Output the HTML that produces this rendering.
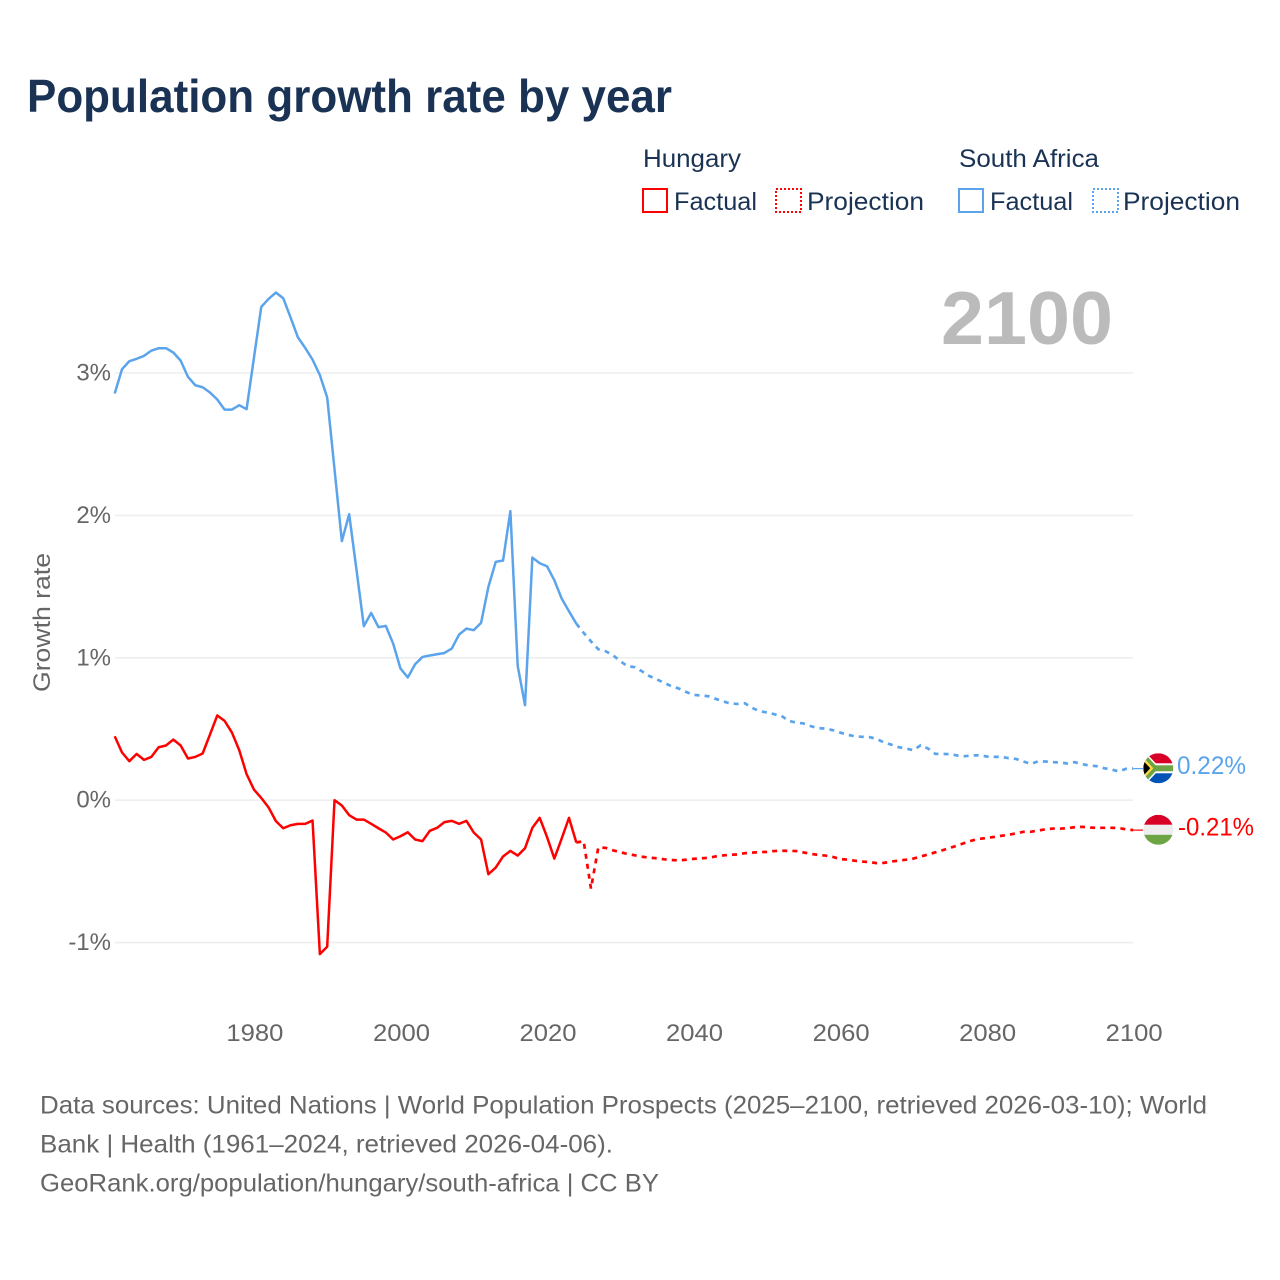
<!DOCTYPE html>
<html lang="en">
<head>
<meta charset="utf-8">
<title>Population growth rate by year</title>
<style>
html,body{margin:0;padding:0;background:#fff;}
svg{display:block;font-family:"Liberation Sans",sans-serif;}
</style>
</head>
<body>
<svg id="chart" xmlns="http://www.w3.org/2000/svg" width="1280" height="1280" viewBox="0 0 1280 1280">
  <defs>
    <clipPath id="flag-clip"><circle cx="0" cy="0" r="15"/></clipPath>
  </defs>
  <rect x="0" y="0" width="1280" height="1280" fill="#fff"/>
  <text x="27" y="112" font-size="46" font-weight="700" fill="#1a3354" textLength="645" lengthAdjust="spacingAndGlyphs">Population growth rate by year</text>

  <g font-size="25" fill="#1a3354">
    <text x="643" y="167" textLength="98" lengthAdjust="spacingAndGlyphs">Hungary</text>
    <text x="959" y="167" textLength="140" lengthAdjust="spacingAndGlyphs">South Africa</text>
    <rect x="643" y="189" width="24" height="23" fill="none" stroke="#ff0000" stroke-width="2"/>
    <text x="674" y="210" textLength="83" lengthAdjust="spacingAndGlyphs">Factual</text>
    <rect x="776" y="189" width="25" height="23" fill="none" stroke="#ff0000" stroke-width="2" stroke-dasharray="2 2"/>
    <text x="807" y="210" textLength="117" lengthAdjust="spacingAndGlyphs">Projection</text>
    <rect x="959" y="189" width="24" height="23" fill="none" stroke="#5ba4ec" stroke-width="2"/>
    <text x="990" y="210" textLength="83" lengthAdjust="spacingAndGlyphs">Factual</text>
    <rect x="1093" y="189" width="25" height="23" fill="none" stroke="#5ba4ec" stroke-width="2" stroke-dasharray="2 2"/>
    <text x="1123" y="210" textLength="117" lengthAdjust="spacingAndGlyphs">Projection</text>
  </g>

  <g id="grid"></g>
  <text id="year-label" x="1113" y="344" text-anchor="end" font-size="75" font-weight="700" fill="#bbbbbb" textLength="172" lengthAdjust="spacingAndGlyphs">2100</text>
  <g id="y-ticks"></g>
  <g id="x-ticks"></g>
  <text transform="translate(50,622.5) rotate(-90)" text-anchor="middle" font-size="24" fill="#666" textLength="139" lengthAdjust="spacingAndGlyphs">Growth rate</text>

  <path id="hungary-factual-line" fill="none" stroke="#ff0000" stroke-width="2.5" stroke-linejoin="round"/>
  <path id="hungary-projection-line" fill="none" stroke="#ff0000" stroke-width="2.7" stroke-dasharray="5 5.1"/>
  <path id="south-africa-factual-line" fill="none" stroke="#5ba4ec" stroke-width="2.5" stroke-linejoin="round"/>
  <path id="south-africa-projection-line" fill="none" stroke="#5ba4ec" stroke-width="2.7" stroke-dasharray="5 5.1"/>
  <line id="hungary-connector" stroke="#ff0000" stroke-width="1.2"/>
  <line id="south-africa-connector" stroke="#5ba4ec" stroke-width="1.2"/>

  <g id="south-africa-flag">
    <g clip-path="url(#flag-clip)">
      <rect x="-15" y="-15" width="30" height="30" fill="#fff"/>
      <rect x="-15" y="-15" width="30" height="10.5" fill="#d80027"/>
      <rect x="-15" y="4.5" width="30" height="10.5" fill="#0052b4"/>
      <polyline points="-18,-15 -4,0 -18,15" fill="none" stroke="#fff" stroke-width="9"/>
      <rect x="-5" y="-5" width="20" height="10" fill="#fff"/>
      <rect x="-5" y="-3" width="20" height="6" fill="#6da544"/>
      <polyline points="-18,-15 -4,0 -18,15" fill="none" stroke="#6da544" stroke-width="6"/>
      <polygon points="-15,-11 -5,0 -15,11" fill="#ffda44"/>
      <polygon points="-15,-7.5 -8,0 -15,7.5" fill="#000"/>
    </g>
  </g>
  <g id="hungary-flag">
    <g clip-path="url(#flag-clip)">
      <rect x="-15" y="-15" width="30" height="10" fill="#d80027"/>
      <rect x="-15" y="-5" width="30" height="10" fill="#eeeeee"/>
      <rect x="-15" y="5" width="30" height="10" fill="#6da544"/>
    </g>
  </g>
  <text id="south-africa-value" x="1177" font-size="25" fill="#5ba4ec" textLength="69" lengthAdjust="spacingAndGlyphs"></text>
  <text id="hungary-value" x="1178" font-size="25" fill="#ff0000" textLength="76" lengthAdjust="spacingAndGlyphs"></text>

  <g font-size="25" fill="#666">
    <text x="40" y="1113.5" textLength="1167" lengthAdjust="spacingAndGlyphs">Data sources: United Nations | World Population Prospects (2025–2100, retrieved 2026-03-10); World</text>
    <text x="40" y="1152.5" textLength="573" lengthAdjust="spacingAndGlyphs">Bank | Health (1961–2024, retrieved 2026-04-06).</text>
    <text x="40" y="1191.5" textLength="619" lengthAdjust="spacingAndGlyphs">GeoRank.org/population/hungary/south-africa | CC BY</text>
  </g>
</svg>
<script>
var factualYears = [1961,1962,1963,1964,1965,1966,1967,1968,1969,1970,1971,1972,1973,1974,1975,1976,1977,1978,1979,1980,1981,1982,1983,1984,1985,1986,1987,1988,1989,1990,1991,1992,1993,1994,1995,1996,1997,1998,1999,2000,2001,2002,2003,2004,2005,2006,2007,2008,2009,2010,2011,2012,2013,2014,2015,2016,2017,2018,2019,2020,2021,2022,2023,2024];
var projectionYears = [2024,2025,2026,2027,2028,2029,2030,2031,2032,2033,2034,2035,2036,2037,2038,2039,2040,2041,2042,2043,2044,2045,2046,2047,2048,2049,2050,2051,2052,2053,2054,2055,2056,2057,2058,2059,2060,2061,2062,2063,2064,2065,2066,2067,2068,2069,2070,2071,2072,2073,2074,2075,2076,2077,2078,2079,2080,2081,2082,2083,2084,2085,2086,2087,2088,2089,2090,2091,2092,2093,2094,2095,2096,2097,2098,2099,2100];
var southAfricaFactual = [2.856,3.027,3.083,3.10,3.12,3.157,3.174,3.174,3.144,3.087,2.973,2.914,2.90,2.863,2.814,2.743,2.743,2.774,2.746,3.106,3.464,3.52,3.565,3.525,3.39,3.251,3.176,3.094,2.985,2.828,2.324,1.819,2.008,1.617,1.222,1.315,1.215,1.224,1.10,0.925,0.862,0.955,1.006,1.016,1.025,1.034,1.065,1.163,1.205,1.194,1.245,1.498,1.674,1.683,2.03,0.943,0.667,1.704,1.664,1.643,1.545,1.416,1.327,1.24];
var southAfricaProjection = [1.24,1.175,1.115,1.06,1.046,1.018,0.976,0.941,0.934,0.904,0.871,0.848,0.824,0.80,0.784,0.76,0.74,0.735,0.73,0.712,0.695,0.679,0.676,0.681,0.648,0.625,0.616,0.604,0.592,0.557,0.545,0.539,0.52,0.506,0.503,0.492,0.475,0.46,0.449,0.445,0.443,0.43,0.405,0.39,0.372,0.363,0.351,0.386,0.363,0.325,0.325,0.323,0.314,0.309,0.314,0.316,0.307,0.304,0.304,0.295,0.29,0.272,0.255,0.272,0.272,0.267,0.265,0.258,0.267,0.253,0.244,0.239,0.225,0.216,0.202,0.22,0.222];
var hungaryFactual = [0.449,0.335,0.274,0.325,0.283,0.304,0.372,0.384,0.426,0.384,0.293,0.304,0.328,0.461,0.595,0.557,0.475,0.351,0.183,0.075,0.016,-0.051,-0.147,-0.197,-0.176,-0.166,-0.166,-0.143,-1.081,-1.028,0.0,-0.037,-0.105,-0.136,-0.136,-0.166,-0.197,-0.227,-0.276,-0.253,-0.225,-0.276,-0.288,-0.215,-0.194,-0.154,-0.145,-0.166,-0.145,-0.227,-0.276,-0.52,-0.473,-0.395,-0.356,-0.389,-0.337,-0.194,-0.124,-0.258,-0.41,-0.269,-0.124,-0.297];
var hungaryProjection = [-0.297,-0.288,-0.62,-0.332,-0.335,-0.352,-0.365,-0.378,-0.387,-0.397,-0.404,-0.408,-0.415,-0.42,-0.423,-0.418,-0.412,-0.408,-0.405,-0.395,-0.388,-0.383,-0.381,-0.372,-0.368,-0.365,-0.363,-0.357,-0.355,-0.356,-0.357,-0.367,-0.377,-0.384,-0.389,-0.398,-0.414,-0.417,-0.425,-0.431,-0.435,-0.442,-0.44,-0.431,-0.424,-0.418,-0.41,-0.396,-0.381,-0.366,-0.351,-0.335,-0.318,-0.30,-0.283,-0.272,-0.265,-0.258,-0.25,-0.243,-0.233,-0.222,-0.222,-0.213,-0.205,-0.199,-0.20,-0.196,-0.19,-0.187,-0.192,-0.194,-0.194,-0.194,-0.195,-0.204,-0.21];
var xTickValues = [1980,2000,2020,2040,2060,2080,2100];
var xTickLabels = ["1980","2000","2020","2040","2060","2080","2100"];
var yTickValues = [3,2,1,0,-1];
var yTickLabels = ["3%","2%","1%","0%","-1%"];

var NS = "http://www.w3.org/2000/svg";
function xScale(year){ return 114.7 + (year - 1961) * (1133.2 - 114.7) / (2100 - 1961); }
function yScale(value){ return 800.2 - value * 142.4; }
function linePath(years, values){
  var d = "";
  for (var i = 0; i < values.length; i++) {
    d += (i ? "L" : "M") + xScale(years[i]).toFixed(2) + " " + yScale(values[i]).toFixed(2);
  }
  return d;
}
function byId(id){ return document.getElementById(id); }

byId("south-africa-factual-line").setAttribute("d", linePath(factualYears, southAfricaFactual));
byId("south-africa-projection-line").setAttribute("d", linePath(projectionYears, southAfricaProjection));
byId("hungary-factual-line").setAttribute("d", linePath(factualYears, hungaryFactual));
byId("hungary-projection-line").setAttribute("d", linePath(projectionYears, hungaryProjection));

yTickValues.forEach(function(v, i){
  var line = document.createElementNS(NS, "line");
  
  
  line.setAttribute("x1", 115);
  line.setAttribute("x2", 1133);
  line.setAttribute("y1", yScale(v));
  line.setAttribute("y2", yScale(v));
  line.setAttribute("stroke", "#eeeeee");
  line.setAttribute("stroke-width", "1.6");
  byId("grid").appendChild(line);

  var t = document.createElementNS(NS, "text");
  
  
  t.setAttribute("x", 111);
  t.setAttribute("y", yScale(v) + 7.5);
  t.setAttribute("text-anchor", "end");
  t.setAttribute("font-size", "24");
  t.setAttribute("fill", "#666");
  t.textContent = yTickLabels[i];
  byId("y-ticks").appendChild(t);
});

xTickValues.forEach(function(v, i){
  var t = document.createElementNS(NS, "text");
  
  
  t.setAttribute("x", xScale(v) + 1);
  t.setAttribute("y", 1041);
  t.setAttribute("text-anchor", "middle");
  t.setAttribute("font-size", "24");
  t.setAttribute("fill", "#666");
  t.setAttribute("textLength", "57");
  t.setAttribute("lengthAdjust", "spacingAndGlyphs");
  t.textContent = xTickLabels[i];
  byId("x-ticks").appendChild(t);
});

function placeEnd(values, key){
  var last = values[values.length - 1];
  var y = yScale(last);
  var c = byId(key + "-connector");
  c.setAttribute("x1", xScale(2100));
  c.setAttribute("x2", 1143);
  c.setAttribute("y1", y);
  c.setAttribute("y2", y);
  byId(key + "-flag").setAttribute("transform", "translate(1158.3 " + (y - 0.3) + ")");
  var label = byId(key + "-value");
  label.setAttribute("y", y + 5.5);
  label.textContent = last.toFixed(2) + "%";
}
placeEnd(southAfricaProjection, "south-africa");
placeEnd(hungaryProjection, "hungary");
</script>
</body>
</html>
